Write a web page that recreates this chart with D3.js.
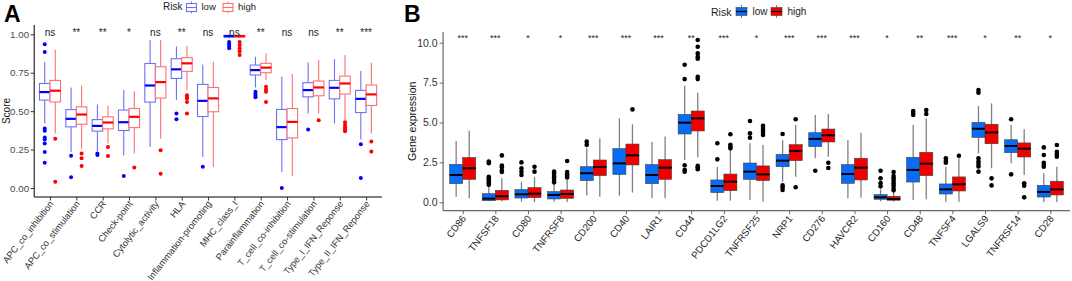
<!DOCTYPE html>
<html><head><meta charset="utf-8">
<script src="https://cdn.jsdelivr.net/npm/d3@7"></script>
<style>body{margin:0;background:#fff}svg{font-family:"Liberation Sans",Arial,sans-serif}</style>
</head><body><svg id="c" width="1072" height="281"></svg>
<script>
// ---------- Panel A data: [lowerWhisker, Q1, median, Q3, upperWhisker]
const catsA = ["APC_co_inhibition","APC_co_stimulation","CCR","Check-point","Cytolytic_activity","HLA","Inflammation-promoting","MHC_class_I","Parainflammation","T_cell_co-inhibition","T_cell_co-stimulation","Type_I_IFN_Reponse","Type_II_IFN_Reponse"];
const lowA = [[0.42,0.572,0.624,0.68,0.82],[0.235,0.398,0.45,0.51,0.654],[0.241,0.37,0.404,0.445,0.543],[0.213,0.374,0.428,0.507,0.637],[0.267,0.559,0.667,0.81,0.963],[0.572,0.713,0.772,0.841,0.92],[0.202,0.465,0.567,0.674,0.804],[0.975,0.982,0.988,0.993,1.0],[0.654,0.735,0.767,0.8,0.854],[0.104,0.315,0.396,0.511,0.724],[0.485,0.593,0.637,0.685,0.817],[0.42,0.58,0.652,0.7,0.839],[0.315,0.491,0.58,0.635,0.761]];
const highA = [[0.354,0.56,0.633,0.70,0.90],[0.256,0.415,0.478,0.528,0.667],[0.289,0.385,0.426,0.463,0.537],[0.224,0.393,0.463,0.517,0.63],[0.32,0.585,0.689,0.789,0.963],[0.637,0.759,0.811,0.848,0.924],[0.137,0.496,0.583,0.654,0.822],[0.975,0.982,0.988,0.993,1.0],[0.702,0.75,0.783,0.811,0.876],[0.078,0.326,0.43,0.517,0.741],[0.485,0.6,0.654,0.696,0.833],[0.441,0.611,0.68,0.728,0.865],[0.354,0.537,0.609,0.67,0.815]];
const outLowA = [[0.935,0.885,0.387,0.372,0.328,0.315,0.289,0.235,0.165],[0.21,0.07],[0.224,0.215],[0.078],[],[0.485,0.448],[0.139],[0.95,0.935,0.92,0.91],[0.626,0.613,0.6,0.59],[0.0],[0.38],[],[0.285,0.065]];
const outHighA = [[0.32,0.04],[0.224,0.193,0.143],[0.267,0.209],[0.133],[0.245,0.093],[0.604,0.593,0.583,0.56,0.485],[],[0.95,0.93,0.91,0.89,0.865],[0.659,0.641,0.626,0.56],[],[0.441],[0.428,0.41,0.395,0.38,0.37],[0.302,0.237]];
const sigA = ["ns","**","**","*","ns","**","ns","ns","**","ns","ns","**","***"];
const ticksA = [0,0.25,0.5,0.75,1.0];

// ---------- Panel B data
const catsB = ["CD86","TNFSF18","CD80","TNFRSF8","CD200","CD40","LAIR1","CD44","PDCD1LG2","TNFRSF25","NRP1","CD276","HAVCR2","CD160","CD48","TNFSF4","LGALS9","TNFRSF14","CD28"];
const lowB = [[0.35,1.17,1.71,2.38,3.84],[0.06,0.10,0.23,0.54,1.02],[0.04,0.27,0.5,0.79,1.3],[0.04,0.21,0.46,0.67,1.19],[0.42,1.36,1.82,2.23,3.38],[0.42,1.75,2.44,3.36,5.26],[0.25,1.17,1.71,2.36,3.78],[2.65,4.28,4.99,5.51,7.31],[0.1,0.61,1.02,1.4,2.23],[0.15,1.44,1.92,2.46,3.7],[1.29,2.23,2.61,3.0,3.9],[2.76,3.49,3.97,4.36,5.47],[0.25,1.19,1.77,2.36,3.9],[0.06,0.19,0.31,0.48,0.81],[0.15,1.27,2.03,2.82,4.84],[0.04,0.52,0.81,1.15,2.23],[3.07,4.07,4.61,5.01,6.03],[2.44,3.11,3.53,3.92,4.84],[0.02,0.33,0.65,1.06,1.82]];
const highB = [[0.25,1.44,2.13,2.8,4.49],[0.06,0.15,0.38,0.75,1.5],[0.0,0.29,0.54,0.92,1.6],[0.02,0.25,0.52,0.77,1.4],[0.35,1.67,2.21,2.65,4.0],[0.61,2.34,2.94,3.65,4.89],[0.25,1.44,2.17,2.67,4.13],[2.8,4.47,5.26,5.72,6.87],[0.1,0.73,1.29,1.77,3.28],[0.04,1.36,1.75,2.28,3.59],[1.6,2.61,3.21,3.61,4.84],[2.86,3.78,4.2,4.59,5.53],[0.29,1.4,2.17,2.76,4.36],[0.04,0.13,0.21,0.38,0.67],[0.19,1.67,2.42,3.13,5.26],[0.04,0.71,1.13,1.59,2.76],[2.13,3.67,4.38,4.89,6.2],[1.71,2.84,3.36,3.72,4.57],[0.02,0.46,0.81,1.32,2.23]];
const outLowB = [[],[1.1,1.2,1.3,1.4,1.5,1.6,2.45,2.55],[1.71,1.92,2.13,2.5],[1.25,1.4,1.55,1.65,1.8,1.92],[3.6,3.8],[],[],[7.72,8.62,2.32,2.03,1.92],[2.69,3.7],[4.05,4.32,5.09],[1.06,0.94,0.77,4.28],[1.98],[],[1.0,1.2,1.5,1.98],[5.47,5.6,5.72],[2.48,2.6,2.76],[6.87,7.03,2.76,2.55,2.4,2.25,1.92],[5.2,1.75],[3.44,2.96,2.48,2.34,2.23]];
const outHighB = [[],[1.9,2.0,2.2,2.3,2.94],[1.92,2.23],[1.56,1.65,1.75,1.9,2.59],[],[5.82],[],[7.87,7.72,9.0,9.12,9.33,9.75,10.17,2.28,2.2,2.07],[3.38,3.5,3.6,4.26],[4.22,4.35,4.5,4.65,4.8],[5.2,0.94],[2.48,2.15],[],[0.75,0.9,1.05,1.2,1.35,1.5,1.65,1.9],[5.78,5.53],[2.92],[1.5,1.06],[1.19,1.04,0.31],[3.59,3.17,3.0,2.86]];
const sigB = ["***","***","*","*","***","***","***","**","***","*","***","***","***","*","**","***","*","**","*"];
const ticksB = [0,2.5,5,7.5,10];
const groups = ["low","high"];

const svg = d3.select("#c");

// ================= Panel A =================
const A = {left:34.2, right:381.9, top:25, bottom:197};
const xA = d3.scalePoint().domain(catsA).range([A.left, A.right]).padding(0.6);
const yA = d3.scaleLinear().domain([0,1]).range([188,34.3]);
const stepA = xA.step();
const gA = svg.append("g");
const colA = {low:{line:"#7070f4", med:"#0000ff", pt:"#0000ff"}, high:{line:"#ff7070", med:"#ff0000", pt:"#ff0000"}};

function drawBoxesA(stats, outs, grp, off){
  const c = colA[grp];
  const w = stepA*0.4;
  catsA.forEach((cat,i)=>{
    const s = stats[i], cx = xA(cat)+off*stepA;
    const g = gA.append("g");
    g.append("line").attr("x1",cx).attr("x2",cx).attr("y1",yA(s[4])).attr("y2",yA(s[3])).attr("stroke",c.line).attr("stroke-width",1.1);
    g.append("line").attr("x1",cx).attr("x2",cx).attr("y1",yA(s[1])).attr("y2",yA(s[0])).attr("stroke",c.line).attr("stroke-width",1.1);
    g.append("rect").attr("x",cx-w/2).attr("width",w).attr("y",yA(s[3])).attr("height",Math.max(0.5,yA(s[1])-yA(s[3]))).attr("fill","#fff").attr("stroke",c.line).attr("stroke-width",1.1);
    g.append("line").attr("x1",cx-w/2).attr("x2",cx+w/2).attr("y1",yA(s[2])).attr("y2",yA(s[2])).attr("stroke",c.med).attr("stroke-width",2.2);
    g.selectAll("circle").data(outs[i]).join("circle").attr("cx",cx).attr("cy",d=>yA(d)).attr("r",2).attr("fill",c.pt);
  });
}
drawBoxesA(lowA, outLowA, "low", -0.2);
drawBoxesA(highA, outHighA, "high", 0.2);

// axes A
const axA = gA.append("g").attr("transform",`translate(${A.left},0)`)
  .call(d3.axisLeft(yA).tickValues(ticksA).tickFormat(d3.format(".2f")).tickSize(3.5).tickPadding(1.5));
axA.select(".domain").attr("d",`M0,${A.top}V${A.bottom}`).attr("stroke","#000");
axA.selectAll("text").attr("font-size",9.8).attr("fill","#4d4d4d");
axA.selectAll(".tick line").attr("stroke","#333");
const bxA = gA.append("g").attr("transform",`translate(0,${A.bottom})`)
  .call(d3.axisBottom(xA).tickSize(3.5).tickFormat(""));
bxA.select(".domain").attr("d",`M${A.left},0H${A.right}`).attr("stroke","#000");
bxA.selectAll(".tick line").attr("stroke","#333");
catsA.forEach(cat=>{
  gA.append("text").attr("transform",`translate(${xA(cat)+4},${A.bottom+7}) rotate(-52)`)
    .attr("text-anchor","end").attr("font-size",9.3).attr("fill","#333").text(cat);
});
catsA.forEach((cat,i)=>{
  gA.append("text").attr("x",xA(cat)).attr("y",36).attr("text-anchor","middle").attr("font-size",10).attr("fill","#222").text(sigA[i]);
});
gA.append("text").attr("transform",`translate(9.5,${(A.top+A.bottom)/2}) rotate(-90)`).attr("text-anchor","middle").attr("font-size",10).attr("fill","#111").text("Score");
svg.append("text").attr("x",4).attr("y",22).attr("font-size",23).attr("font-weight","bold").text("A");

// legend A
const legA = svg.append("g");
legA.append("text").attr("x",163).attr("y",10).attr("font-size",10).attr("fill","#222").text("Risk");
const keyA = d3.scaleOrdinal().domain(groups).range([191.5,228]);
groups.forEach(gname=>{
  const cx = keyA(gname), c = colA[gname];
  legA.append("line").attr("x1",cx).attr("x2",cx).attr("y1",1.5).attr("y2",13.5).attr("stroke",c.line);
  legA.append("rect").attr("x",cx-5).attr("y",3.5).attr("width",10).attr("height",8).attr("fill","#fff").attr("stroke",c.line).attr("stroke-width",1.1);
  legA.append("line").attr("x1",cx-5).attr("x2",cx+5).attr("y1",7.5).attr("y2",7.5).attr("stroke",c.line).attr("stroke-width",1.1);
  legA.append("text").attr("x",cx+10).attr("y",10).attr("font-size",9.5).attr("fill","#222").text(gname);
});

// ================= Panel B =================
const B = {left:443.1, right:1069.9, top:32, bottom:210.7};
const xB = d3.scalePoint().domain(catsB).range([B.left, B.right]).padding(0.6);
const yB = d3.scaleLinear().domain([0,10]).range([202.3,42.7]);
const stepB = xB.step();
const gB = svg.append("g");
const fillB = {low:"#0a6cf5", high:"#f20000"};

function drawBoxesB(stats, outs, grp, off){
  const w = stepB*0.4;
  catsB.forEach((cat,i)=>{
    const s = stats[i], cx = xB(cat)+off*stepB;
    const g = gB.append("g");
    g.append("line").attr("x1",cx).attr("x2",cx).attr("y1",yB(s[4])).attr("y2",yB(s[0])).attr("stroke","#808080").attr("stroke-width",1.3);
    g.append("rect").attr("x",cx-w/2).attr("width",w).attr("y",yB(s[3])).attr("height",yB(s[1])-yB(s[3])).attr("fill",fillB[grp]).attr("stroke","#404040").attr("stroke-width",0.6);
    g.append("line").attr("x1",cx-w/2).attr("x2",cx+w/2).attr("y1",yB(s[2])).attr("y2",yB(s[2])).attr("stroke","#000").attr("stroke-width",2);
    g.selectAll("circle").data(outs[i]).join("circle").attr("cx",cx).attr("cy",d=>yB(d)).attr("r",2.3).attr("fill","#000");
  });
}
drawBoxesB(lowB, outLowB, "low", -0.2);
drawBoxesB(highB, outHighB, "high", 0.2);

const axB = gB.append("g").attr("transform",`translate(${B.left},0)`)
  .call(d3.axisLeft(yB).tickValues(ticksB).tickFormat(d3.format(".1f")).tickSize(3.5).tickPadding(2));
axB.select(".domain").attr("d",`M0,${B.top}V${B.bottom}`).attr("stroke","#666").attr("stroke-width",1.2);
axB.selectAll("text").attr("font-size",10.5).attr("fill","#333");
axB.selectAll(".tick line").attr("stroke","#666");
const bxB = gB.append("g").attr("transform",`translate(0,${B.bottom})`)
  .call(d3.axisBottom(xB).tickSize(3.5).tickFormat(""));
bxB.select(".domain").attr("d",`M${B.left},0H${B.right}`).attr("stroke","#666").attr("stroke-width",1.2);
bxB.selectAll(".tick line").attr("stroke","#666");
catsB.forEach(cat=>{
  gB.append("text").attr("transform",`translate(${xB(cat)+4},${B.bottom+8}) rotate(-52)`)
    .attr("text-anchor","end").attr("font-size",9.8).attr("fill","#222").text(cat);
});
catsB.forEach((cat,i)=>{
  gB.append("text").attr("x",xB(cat)).attr("y",41).attr("text-anchor","middle").attr("font-size",9).attr("fill","#222").text(sigB[i]);
});
gB.append("text").attr("transform",`translate(416,${(B.top+B.bottom)/2}) rotate(-90)`).attr("text-anchor","middle").attr("font-size",10.5).attr("fill","#111").text("Gene expression");
svg.append("text").attr("x",404).attr("y",22).attr("font-size",23).attr("font-weight","bold").text("B");

// legend B
const legB = svg.append("g");
legB.append("text").attr("x",711).attr("y",15.5).attr("font-size",10.5).attr("fill","#222").text("Risk");
const keyB = d3.scaleOrdinal().domain(groups).range([741.5,776.5]);
groups.forEach(gname=>{
  const cx = keyB(gname);
  legB.append("line").attr("x1",cx).attr("x2",cx).attr("y1",5).attr("y2",18).attr("stroke","#808080");
  legB.append("rect").attr("x",cx-5.5).attr("y",7.5).attr("width",11).attr("height",8).attr("fill",fillB[gname]).attr("stroke","#404040").attr("stroke-width",0.6);
  legB.append("line").attr("x1",cx-5.5).attr("x2",cx+5.5).attr("y1",11.5).attr("y2",11.5).attr("stroke","#000").attr("stroke-width",1.2);
  legB.append("text").attr("x",cx+11).attr("y",15).attr("font-size",10).attr("fill","#222").text(gname);
});
</script></body></html>
